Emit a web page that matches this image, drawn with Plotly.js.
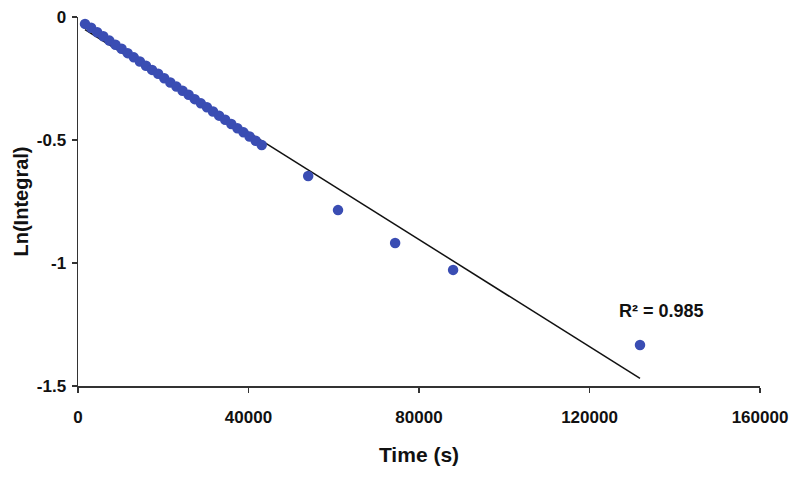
<!DOCTYPE html>
<html>
<head>
<meta charset="utf-8">
<script src="https://cdn.plot.ly/plotly-3.0.1.min.js"></script>
<style>html,body{margin:0;padding:0;background:#fff;}#chart{width:800px;height:479px;}</style>
</head>
<body>
<div id="chart"></div>
<script>
// Data
const timeS = [1650, 3080, 4510, 5940, 7370, 8800, 10230, 11660, 13090, 14520,
  15950, 17380, 18810, 20240, 21670, 23100, 24530, 25960, 27390, 28820,
  30250, 31680, 33110, 34540, 35970, 37400, 38830, 40260, 41690, 43100,
  54000, 61000, 74400, 88000, 131850];
const lnIntegral = [-0.028, -0.044, -0.062, -0.078, -0.096, -0.113, -0.129, -0.147, -0.164, -0.181,
  -0.198, -0.215, -0.231, -0.249, -0.266, -0.283, -0.300, -0.316, -0.334, -0.351,
  -0.367, -0.384, -0.401, -0.418, -0.435, -0.452, -0.469, -0.486, -0.503, -0.520,
  -0.646, -0.785, -0.919, -1.028, -1.333];
const yTickVals = [0, -0.5, -1, -1.5];
const yTickText = ["0", "-0.5", "-1", "-1.5"];
const xTickVals = [0, 40000, 80000, 120000, 160000];
const xTickText = ["0", "40000", "80000", "120000", "160000"];
const r2Label = "R² = 0.985";

// Linear least-squares trendline (as the spreadsheet would draw it)
const n = timeS.length;
const mx = timeS.reduce((a, b) => a + b, 0) / n;
const my = lnIntegral.reduce((a, b) => a + b, 0) / n;
let sxy = 0, sxx = 0;
for (let i = 0; i < n; i++) { sxy += (timeS[i] - mx) * (lnIntegral[i] - my); sxx += (timeS[i] - mx) ** 2; }
const slope = sxy / sxx, icept = my - slope * mx;
const xMin = Math.min(...timeS), xMax = Math.max(...timeS);
const fitX = [xMin, xMax];
const fitY = fitX.map(x => icept + slope * x);

const font = "'Liberation Sans', Arial, sans-serif";
const traces = [
  { x: fitX, y: fitY, mode: 'lines', line: { color: '#111', width: 1.5 }, hoverinfo: 'skip' },
  { x: timeS, y: lnIntegral, mode: 'markers', marker: { color: '#3a4db3', size: 10.5 } }
];
const layout = {
  width: 800, height: 479,
  margin: { l: 78, r: 40, t: 17, b: 93 },
  showlegend: false,
  paper_bgcolor: '#fff', plot_bgcolor: '#fff',
  font: { family: font, color: '#111' },
  xaxis: {
    range: [0, 160000], tickvals: xTickVals, ticktext: xTickText,
    showgrid: false, zeroline: false, showline: true, linecolor: '#333', linewidth: 1.5,
    ticks: 'outside', ticklen: 5, tickcolor: '#333', tickwidth: 1.5,
    ticklabelstandoff: 10,
    tickfont: { family: font, size: 17, color: '#111', weight: 'bold' },
    title: { text: 'Time (s)', font: { family: font, size: 21, color: '#111', weight: 'bold' }, standoff: 21 }
  },
  yaxis: {
    range: [-1.5, 0], tickvals: yTickVals, ticktext: yTickText,
    showgrid: false, zeroline: false, showline: true, linecolor: '#333', linewidth: 1.5,
    ticks: 'outside', ticklen: 5, tickcolor: '#333', tickwidth: 1.5,
    ticklabelstandoff: 2,
    tickfont: { family: font, size: 17, color: '#111', weight: 'bold' },
    title: { text: 'Ln(Integral)', font: { family: font, size: 20, color: '#111', weight: 'bold' }, standoff: 3 }
  },
  annotations: [{
    x: 137000, y: -1.195, xref: 'x', yref: 'y', text: r2Label, showarrow: false,
    font: { family: font, size: 18, color: '#111', weight: 'bold' }
  }]
};
Plotly.newPlot('chart', traces, layout, { displayModeBar: false, staticPlot: true });
</script>
</body>
</html>
